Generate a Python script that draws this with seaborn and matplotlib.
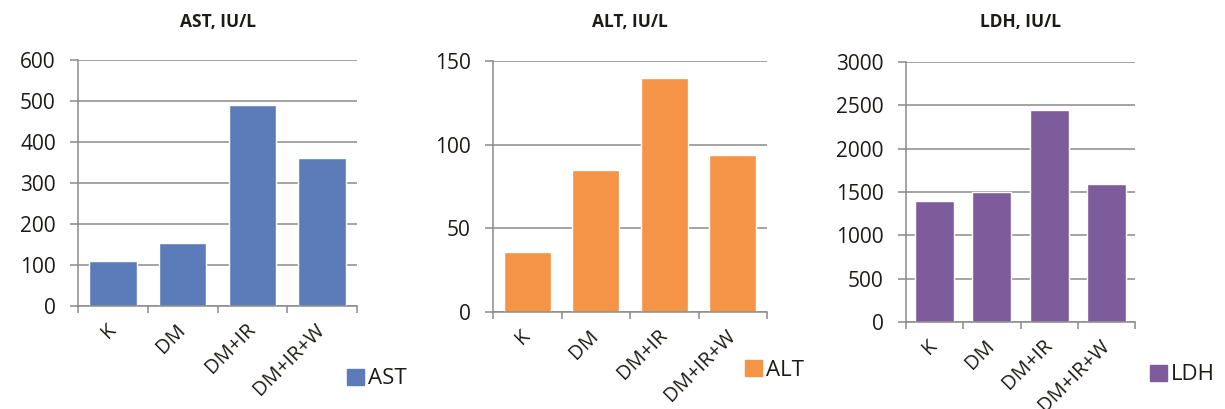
import numpy as np
import matplotlib
matplotlib.use('Agg')
import matplotlib.pyplot as plt
from matplotlib.patches import Patch
from matplotlib.ticker import FixedLocator
import seaborn as sns

categories = ['K', 'DM', 'DM+IR', 'DM+IR+W']
ast_values = [110, 153, 491, 360]
alt_values = [36, 85, 140, 94]
ldh_values = [1400, 1500, 2450, 1590]

titles = ['AST, IU/L', 'ALT, IU/L', 'LDH, IU/L']
legend_names = ['AST', 'ALT', 'LDH']
colors = ['#5b7cb8', '#f59447', '#7e5c9c']
ymax = [600, 150, 3000]
ystep = [100, 50, 500]

sns.set_style('white')
plt.rcParams['font.family'] = ['Open Sans', 'DejaVu Sans']

W, H = 1225, 409
fig = plt.figure(figsize=(W / 100, H / 100), dpi=100)

# axes boxes in pixels: left, top, right, bottom
boxes = [(78, 60, 357, 306), (493, 61, 767, 312), (906, 62, 1135, 322)]
legend_pos = [(347, 379), (745, 370), (1150, 375)]
grid_col = '#8a8a8a'
text_col = '#1e1a18'

for i, vals in enumerate([ast_values, alt_values, ldh_values]):
    l, t, r, b = boxes[i]
    ax = fig.add_axes([l / W, 1 - b / H, (r - l) / W, (b - t) / H])
    sns.barplot(x=categories, y=vals, color=colors[i], saturation=1,
                width=0.68, ax=ax)
    ax.set_xlim(-0.5, 3.5)
    ax.set_ylim(0, ymax[i])
    ax.set_yticks(np.arange(0, ymax[i] + 1, ystep[i]))
    ax.set_axisbelow(True)
    ax.yaxis.grid(True, color=grid_col, lw=1.1)
    ax.xaxis.grid(False)
    for s in ['top', 'right']:
        ax.spines[s].set_visible(False)
    for s in ['left', 'bottom']:
        ax.spines[s].set_color(grid_col)
        ax.spines[s].set_linewidth(1.1)
    ax.tick_params(axis='y', length=6, width=1.1, color=grid_col,
                   labelsize=15, pad=10, labelcolor=text_col, left=True)
    ax.xaxis.set_minor_locator(FixedLocator([-0.5, 0.5, 1.5, 2.5, 3.5]))
    ax.tick_params(axis='x', which='minor', length=5, width=1.1,
                   color=grid_col, bottom=True)
    ax.tick_params(axis='x', which='major', length=0, pad=15,
                   labelsize=14.5, labelcolor=text_col)
    for lab in ax.get_xticklabels():
        lab.set_rotation(45)
        lab.set_ha('right')
        lab.set_va('center')
        lab.set_rotation_mode('anchor')
    ax.set_xlabel('')
    ax.set_ylabel('')

    fig.text((l + r) / 2 / W, 1 - 22 / H, titles[i], ha='center',
             va='center', fontsize=12.5, fontweight='bold', color=text_col)

    lx, ly = legend_pos[i]
    leg = fig.legend(handles=[Patch(color=colors[i], label=legend_names[i])],
                     loc='center left', bbox_to_anchor=(lx / W, 1 - ly / H),
                     frameon=False, fontsize=16, borderpad=0, borderaxespad=0,
                     handlelength=0.75, handleheight=0.75, handletextpad=0.2)
    for txt in leg.get_texts():
        txt.set_color(text_col)

fig.savefig('out.png', dpi=100)
